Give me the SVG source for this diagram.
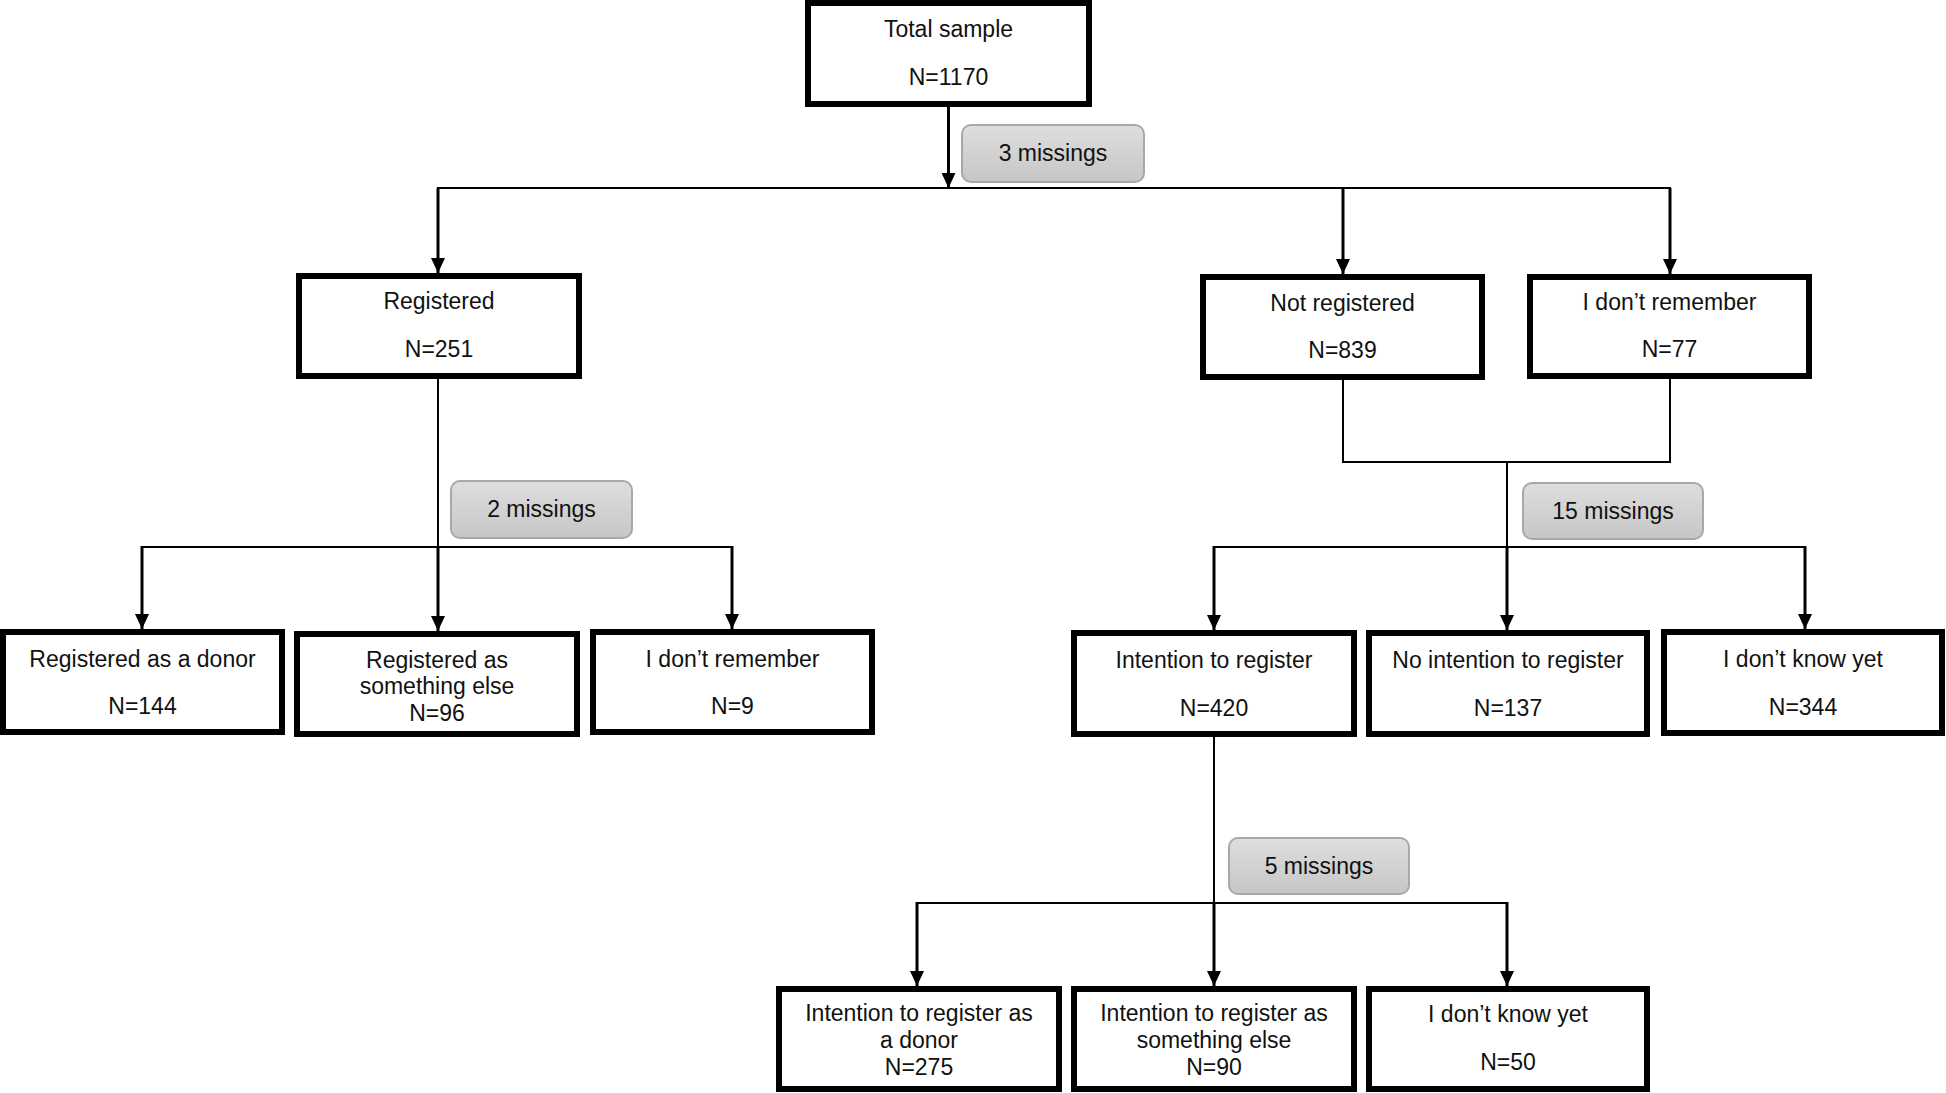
<svg xmlns="http://www.w3.org/2000/svg" width="1946" height="1093" viewBox="0 0 1946 1093">
<defs>
<linearGradient id="g" x1="0" y1="0" x2="0" y2="1">
<stop offset="0" stop-color="#dedede"/>
<stop offset="1" stop-color="#c6c6c6"/>
</linearGradient>
<marker id="arr" viewBox="0 0 15 14" refX="15" refY="7" markerWidth="15" markerHeight="14" markerUnits="userSpaceOnUse" orient="auto">
<path d="M0,0 L15,7 L0,14 Z" fill="#000"/>
</marker>
</defs>
<style>
.box{fill:#fff;stroke:#000;stroke-width:6}
.miss{fill:url(#g);stroke:#a8a8a8;stroke-width:2}
text{font-family:"Liberation Sans",Arial,sans-serif;font-size:23px;fill:#111;text-anchor:middle}
.ln{fill:none;stroke:#000;stroke-width:2}
.ar{fill:none;stroke:#000;stroke-width:3;marker-end:url(#arr)}
</style>
<rect width="1946" height="1093" fill="#fff"/>
<g id="connectors">
<line class="ar" x1="948.5" y1="107" x2="948.5" y2="188"/>
<line class="ln" x1="437" y1="188" x2="1671" y2="188"/>
<line class="ar" x1="438" y1="188" x2="438" y2="273"/>
<line class="ar" x1="1343" y1="188" x2="1343" y2="274"/>
<line class="ar" x1="1670" y1="188" x2="1670" y2="274"/>
<line class="ln" x1="438" y1="379" x2="438" y2="547"/>
<line class="ar" x1="438" y1="547" x2="438" y2="631"/>
<line class="ln" x1="142" y1="547" x2="732" y2="547"/>
<line class="ar" x1="142" y1="546" x2="142" y2="629"/>
<line class="ar" x1="732" y1="546" x2="732" y2="629"/>
<polyline class="ln" points="1343,380 1343,462 1670,462 1670,379"/>
<line class="ln" x1="1507" y1="462" x2="1507" y2="547"/>
<line class="ar" x1="1507" y1="547" x2="1507" y2="630"/>
<line class="ln" x1="1214" y1="547" x2="1805" y2="547"/>
<line class="ar" x1="1214" y1="546" x2="1214" y2="630"/>
<line class="ar" x1="1805" y1="546" x2="1805" y2="629"/>
<line class="ln" x1="1214" y1="737" x2="1214" y2="903"/>
<line class="ar" x1="1214" y1="903" x2="1214" y2="986"/>
<line class="ln" x1="917" y1="903" x2="1507" y2="903"/>
<line class="ar" x1="917" y1="902" x2="917" y2="986"/>
<line class="ar" x1="1507" y1="902" x2="1507" y2="986"/>
</g>
<g id="total"><rect class="box" x="808" y="3" width="281" height="101"/><text x="948.5" y="37">Total sample</text><text x="948.5" y="85">N=1170</text></g>
<g id="miss3"><rect class="miss" x="962" y="125" width="182" height="57" rx="9"/><text x="1053" y="161">3 missings</text></g>
<g id="registered"><rect class="box" x="299" y="276" width="280" height="100"/><text x="439" y="309">Registered</text><text x="439" y="357">N=251</text></g>
<g id="notregistered"><rect class="box" x="1203" y="277" width="279" height="100"/><text x="1342.5" y="311">Not registered</text><text x="1342.5" y="358">N=839</text></g>
<g id="dontremember"><rect class="box" x="1530" y="277" width="279" height="99"/><text x="1669.5" y="310">I don’t remember</text><text x="1669.5" y="357">N=77</text></g>
<g id="miss2"><rect class="miss" x="451" y="481" width="181" height="57" rx="9"/><text x="541.5" y="517">2 missings</text></g>
<g id="miss15"><rect class="miss" x="1523" y="483" width="180" height="56" rx="9"/><text x="1613" y="519">15 missings</text></g>
<g id="regdonor"><rect class="box" x="3" y="632" width="279" height="100"/><text x="142.5" y="667">Registered as a donor</text><text x="142.5" y="714">N=144</text></g>
<g id="regelse"><rect class="box" x="297" y="634" width="280" height="100"/><text x="437" y="668">Registered as</text><text x="437" y="694">something else</text><text x="437" y="721">N=96</text></g>
<g id="regdontrem"><rect class="box" x="593" y="632" width="279" height="100"/><text x="732.5" y="667">I don’t remember</text><text x="732.5" y="714">N=9</text></g>
<g id="intention"><rect class="box" x="1074" y="633" width="280" height="101"/><text x="1214" y="668">Intention to register</text><text x="1214" y="716">N=420</text></g>
<g id="nointention"><rect class="box" x="1369" y="633" width="278" height="101"/><text x="1508" y="668">No intention to register</text><text x="1508" y="716">N=137</text></g>
<g id="dontknow"><rect class="box" x="1664" y="632" width="278" height="101"/><text x="1803" y="667">I don’t know yet</text><text x="1803" y="715">N=344</text></g>
<g id="miss5"><rect class="miss" x="1229" y="838" width="180" height="56" rx="9"/><text x="1319" y="874">5 missings</text></g>
<g id="intdonor"><rect class="box" x="779" y="989" width="280" height="100"/><text x="919" y="1021">Intention to register as</text><text x="919" y="1048">a donor</text><text x="919" y="1075">N=275</text></g>
<g id="intelse"><rect class="box" x="1074" y="989" width="280" height="100"/><text x="1214" y="1021">Intention to register as</text><text x="1214" y="1048">something else</text><text x="1214" y="1075">N=90</text></g>
<g id="intdontknow"><rect class="box" x="1369" y="989" width="278" height="100"/><text x="1508" y="1022">I don’t know yet</text><text x="1508" y="1070">N=50</text></g>
</svg>
